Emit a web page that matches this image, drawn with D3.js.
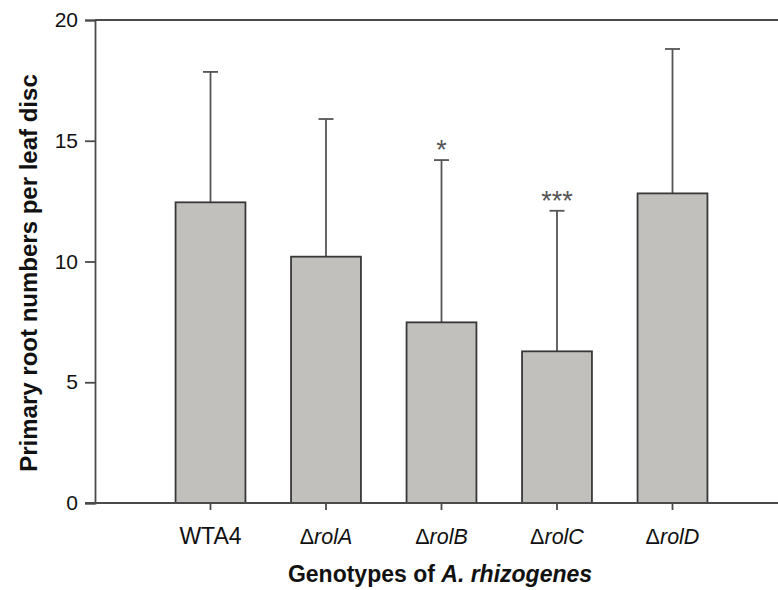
<!DOCTYPE html>
<html lang="en">
<head>
    <meta charset="UTF-8">
    <title>Primary root numbers per leaf disc</title>
    <script src="https://d3js.org/d3.v7.min.js"></script>
    <style>
        body { margin: 0; background-color: white; }
        svg { display: block; font-family: "Liberation Sans", Arial, sans-serif; }
    </style>
</head>
<body>
    <svg width="778" height="590" id="chart"></svg>
    <script>
        // data
        const genotypes = ["WTA4", "rolA", "rolB", "rolC", "rolD"];
        const meanRoots = [12.45, 10.2, 7.48, 6.28, 12.82];
        const upperError = [17.85, 15.9, 14.2, 12.1, 18.8];
        const significance = ["", "", "*", "***", ""];
        const yTicks = [0, 5, 10, 15, 20];

        const svg = d3.select("#chart");
        const plotLeft = 95, plotRight = 788, plotTop = 20, plotBottom = 503;

        const x = d3.scaleBand()
            .domain(genotypes)
            .range([plotLeft, plotRight])
            .paddingInner(0.395)
            .paddingOuter(0.6975);

        const y = d3.scaleLinear().domain([0, 20]).range([plotBottom, plotTop]);

        const axisColor = "#4a4a4a";

        // frame top line
        svg.append("line")
            .attr("x1", plotLeft).attr("x2", 778)
            .attr("y1", y(20)).attr("y2", y(20))
            .attr("stroke", axisColor).attr("stroke-width", 1.8);

        // y axis
        const yAxis = svg.append("g")
            .attr("transform", `translate(${plotLeft},0)`)
            .call(d3.axisLeft(y).tickValues(yTicks).tickSize(10).tickPadding(7));
        yAxis.select(".domain").attr("stroke", axisColor).attr("stroke-width", 1.8);
        yAxis.selectAll(".tick line").attr("stroke", axisColor).attr("stroke-width", 1.8);
        yAxis.selectAll(".tick text")
            .attr("font-size", 21)
            .attr("fill", "#111")
            .attr("font-family", "Liberation Sans, Arial, sans-serif");

        // bars
        const bw = x.bandwidth();
        genotypes.forEach((g, i) => {
            const cx = x(g) + bw / 2;
            // error bar (upper only)
            svg.append("line")
                .attr("x1", cx).attr("x2", cx)
                .attr("y1", y(meanRoots[i])).attr("y2", y(upperError[i]))
                .attr("stroke", "#555").attr("stroke-width", 1.8);
            svg.append("line")
                .attr("x1", cx - 7.5).attr("x2", cx + 7.5)
                .attr("y1", y(upperError[i])).attr("y2", y(upperError[i]))
                .attr("stroke", "#555").attr("stroke-width", 1.8);

            svg.append("rect")
                .attr("x", x(g))
                .attr("y", y(meanRoots[i]))
                .attr("width", bw)
                .attr("height", y(0) - y(meanRoots[i]))
                .attr("fill", "#c1c0bd")
                .attr("stroke", "#383838")
                .attr("stroke-width", 1.8);

            if (significance[i]) {
                svg.append("text")
                    .attr("x", cx)
                    .attr("y", y(upperError[i]) - 1)
                    .attr("text-anchor", "middle")
                    .attr("font-size", 27)
                    .attr("fill", "#555")
                    .text(significance[i]);
            }
        });

        // x axis
        const xAxis = svg.append("g")
            .attr("transform", `translate(0,${plotBottom})`)
            .call(d3.axisBottom(x).tickSize(7).tickSizeOuter(0).tickFormat(""));
        xAxis.select(".domain").attr("stroke", axisColor).attr("stroke-width", 1.8)
            .attr("d", `M${plotLeft - 10},0H778`);
        xAxis.selectAll(".tick line").attr("stroke", axisColor).attr("stroke-width", 1.8);

        // x tick labels: WTA4 upright and larger, deletion mutants as Δ + italic name
        genotypes.forEach((g, i) => {
            const t = svg.append("text")
                .attr("x", x(g) + bw / 2)
                .attr("y", 544)
                .attr("text-anchor", "middle")
                .attr("font-size", i === 0 ? 23 : 21.5)
                .attr("fill", "#111");
            if (i === 0) {
                t.text(g);
            } else {
                t.append("tspan").text("\u0394");
                t.append("tspan").attr("font-style", "italic").text(g);
            }
        });

        // axis titles
        const xt = svg.append("text")
            .attr("x", 440)
            .attr("y", 582)
            .attr("text-anchor", "middle")
            .attr("font-size", 23)
            .attr("font-weight", "bold")
            .attr("fill", "#111");
        xt.append("tspan").text("Genotypes of ");
        xt.append("tspan").attr("font-style", "italic").text("A. rhizogenes");

        svg.append("text")
            .attr("transform", "translate(37,273) rotate(-90)")
            .attr("text-anchor", "middle")
            .attr("font-size", 24)
            .attr("font-weight", "bold")
            .attr("fill", "#111")
            .text("Primary root numbers per leaf disc");
    </script>
</body>
</html>
